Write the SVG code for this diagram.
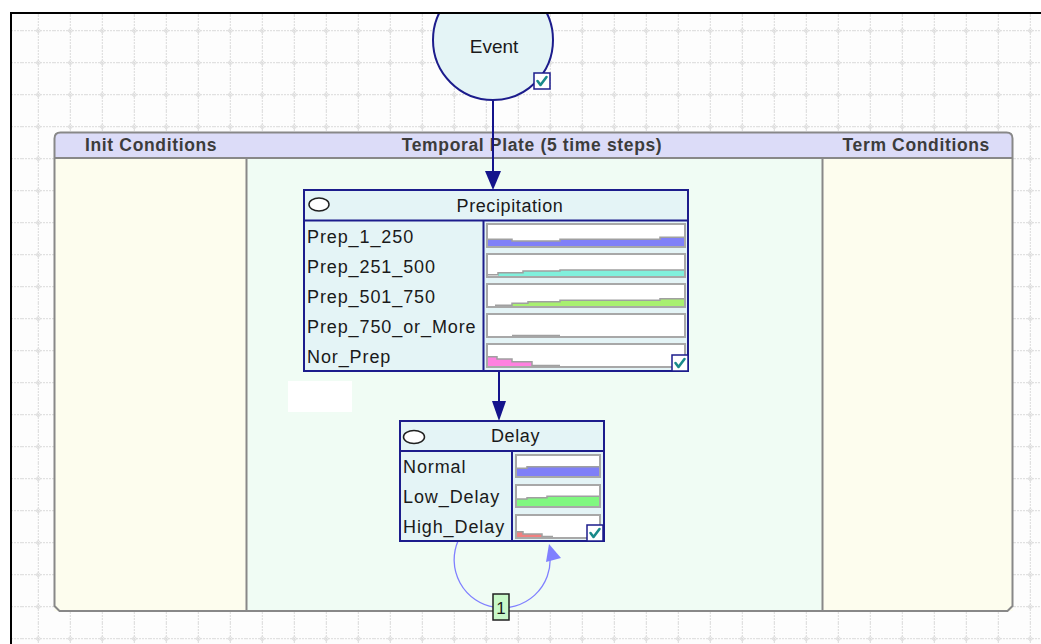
<svg xmlns="http://www.w3.org/2000/svg" width="1041" height="644" viewBox="0 0 1041 644">
<defs>
<style>
.hdr{font-family:"Liberation Sans",Arial,sans-serif;font-weight:bold;font-size:17.5px;fill:#3c3c3c;letter-spacing:0.65px}
.lbl{font-family:"Liberation Sans",Arial,sans-serif;font-size:18px;fill:#1a1a1a;letter-spacing:0.9px}
.title{font-family:"Liberation Sans",Arial,sans-serif;font-size:18px;fill:#1a1a1a;letter-spacing:0.6px}
.node{fill:#e4f4f6;stroke:#1c1c8c;stroke-width:2}
.bar{fill:#ffffff;stroke:#a8a8a8;stroke-width:2}
.trace{fill:none;stroke:#a0a0a0;stroke-width:1.5}
.cb{fill:#ffffff;stroke:#1c1c8c;stroke-width:1.5}
.ck{fill:none;stroke:#1a8a8a;stroke-width:2.6;stroke-linecap:round;stroke-linejoin:round}
.oval{fill:#ffffff;stroke:#202020;stroke-width:1.5}
.link{stroke:#14148c;stroke-width:2;fill:none}
</style>
<pattern id="grid" x="22" y="15" width="32" height="32" patternUnits="userSpaceOnUse">
<line x1="16.3" y1="0" x2="16.3" y2="32" stroke="#dadada" stroke-width="1" stroke-dasharray="2 1"/>
<line x1="0" y1="15.7" x2="32" y2="15.7" stroke="#dadada" stroke-width="1" stroke-dasharray="2 1"/>
<circle cx="16.3" cy="15.7" r="1.8" fill="none" stroke="#dadada" stroke-width="1"/>
</pattern>
</defs>

<rect x="0" y="0" width="1041" height="644" fill="#ffffff"/>
<rect x="12" y="14" width="1029" height="630" fill="#fdfdfd"/>
<rect x="12" y="14" width="1029" height="630" fill="url(#grid)"/>
<line x1="10" y1="13" x2="1041" y2="13" stroke="#000000" stroke-width="2"/>
<line x1="11" y1="12" x2="11" y2="644" stroke="#000000" stroke-width="2"/>

<g id="plate">
<rect x="54.5" y="158" width="192" height="453" fill="#fdfdee"/>
<rect x="246.5" y="158" width="576" height="453" fill="#f0fcf4"/>
<rect x="822.5" y="158" width="190" height="453" fill="#fdfdee"/>
<path d="M54.5 158 L54.5 138.5 Q54.5 132.5 60.5 132.5 L1006.5 132.5 Q1012.5 132.5 1012.5 138.5 L1012.5 158 Z" fill="#dcdcf8"/>
<path d="M54.5 138.5 Q54.5 132.5 60.5 132.5 L1006.5 132.5 Q1012.5 132.5 1012.5 138.5 L1012.5 606 L1007.5 611 L59.5 611 L54.5 606 Z" fill="none" stroke="#888888" stroke-width="2"/>
<line x1="54.5" y1="158" x2="1012.5" y2="158" stroke="#888888" stroke-width="2"/>
<line x1="246.5" y1="158" x2="246.5" y2="611" stroke="#888888" stroke-width="2"/>
<line x1="822.5" y1="158" x2="822.5" y2="611" stroke="#888888" stroke-width="2"/>
<text class="hdr" x="85" y="151">Init Conditions</text>
<text class="hdr" x="532" y="151" text-anchor="middle">Temporal Plate (5 time steps)</text>
<text class="hdr" x="990" y="151" text-anchor="end">Term Conditions</text>
<rect x="288" y="381" width="64" height="31" fill="#ffffff"/>
</g>

<g id="connectors">
<line class="link" x1="493" y1="100" x2="493" y2="174"/>
<polygon points="485,171 501,171 493,190" fill="#14148c"/>
<line class="link" x1="499" y1="371" x2="499" y2="404"/>
<polygon points="492,401 506,401 499,421" fill="#14148c"/>
<path d="M458 541 A48 48 0 1 0 550 556" fill="none" stroke="#8080ff" stroke-width="1.3"/>
<polygon points="549,544 546,562 561,558" fill="#8080ff"/>
<rect x="493" y="594" width="16" height="26" fill="#c8f8c8" stroke="#202020" stroke-width="1.5"/>
<text x="501" y="614" text-anchor="middle" font-family="'Liberation Sans',Arial,sans-serif" font-size="17" fill="#1a1a1a">1</text>
</g>

<g id="event">
<circle cx="493" cy="40" r="60" fill="#e4f4f6" stroke="#1c1c8c" stroke-width="2"/>
<rect x="0" y="0" width="1041" height="12" fill="#ffffff"/>
<line x1="10" y1="13" x2="1041" y2="13" stroke="#000000" stroke-width="2"/>
<text x="494" y="53" text-anchor="middle" font-family="'Liberation Sans',Arial,sans-serif" font-size="19" fill="#1a1a1a">Event</text>
<rect class="cb" x="534" y="73" width="16" height="16"/>
<path class="ck" d="M537.5 81 L540.5 85 L546.5 77"/>
</g>

<g id="precipitation">
<rect class="node" x="304" y="190" width="384" height="181"/>
<line x1="304" y1="220.5" x2="688" y2="220.5" stroke="#1c1c8c" stroke-width="2"/>
<line x1="483.5" y1="220.5" x2="483.5" y2="371" stroke="#1c1c8c" stroke-width="2"/>
<ellipse class="oval" cx="319" cy="204.5" rx="10" ry="6.5"/>
<text class="title" x="510" y="212" text-anchor="middle">Precipitation</text>
<text class="lbl" x="307" y="243">Prep_1_250</text>
<text class="lbl" x="307" y="273">Prep_251_500</text>
<text class="lbl" x="307" y="303">Prep_501_750</text>
<text class="lbl" x="307" y="333">Prep_750_or_More</text>
<text class="lbl" x="307" y="363">Nor_Prep</text>
<rect class="bar" x="487" y="224" width="198" height="23"/>
<polygon points="488,239.3 512,239.3 512,241 560,241 560,239.3 660,239.3 660,237.3 684,237.3 684,246 488,246" fill="#8080f8"/>
<polyline class="trace" points="488,239.3 512,239.3 512,241 560,241 560,239.3 660,239.3 660,237.3 684,237.3"/>
<rect class="bar" x="487" y="254" width="198" height="23"/>
<polygon points="498,272.7 523,272.7 523,271 560,271 560,270 684,270 684,276 498,276" fill="#80f0dc"/>
<polyline class="trace" points="488,274.8 498,274.8 498,272.7 523,272.7 523,271 560,271 560,270 684,270"/>
<rect class="bar" x="487" y="284" width="198" height="23"/>
<polygon points="512,303.3 528,303.3 528,301.7 560,301.7 560,300.3 660,300.3 660,298.7 684,298.7 684,306 512,306" fill="#a8f070"/>
<polyline class="trace" points="495,305.3 512,305.3 512,303.3 528,303.3 528,301.7 560,301.7 560,300.3 660,300.3 660,298.7 684,298.7"/>
<rect class="bar" x="487" y="314" width="198" height="23"/>
<polyline class="trace" points="512,335.5 560,335.5"/>
<rect class="bar" x="487" y="344" width="198" height="23"/>
<polygon points="488,356.7 497,356.7 497,359 512,359 512,361.7 532,361.7 532,366 488,366" fill="#ff80e0"/>
<polyline class="trace" points="488,356.7 497,356.7 497,359 512,359 512,361.7 532,361.7 532,365.5 560,365.5"/>
<rect class="cb" x="672" y="355" width="16" height="16"/>
<path class="ck" d="M675.5 363 L678.5 367 L684.5 359"/>
</g>

<g id="delay">
<rect class="node" x="400" y="421" width="204" height="120"/>
<line x1="400" y1="451" x2="604" y2="451" stroke="#1c1c8c" stroke-width="2"/>
<line x1="512" y1="451" x2="512" y2="541" stroke="#1c1c8c" stroke-width="2"/>
<ellipse class="oval" cx="414" cy="437" rx="10.5" ry="6.5"/>
<text class="title" x="515.5" y="442" text-anchor="middle">Delay</text>
<text class="lbl" x="403" y="473">Normal</text>
<text class="lbl" x="403" y="503">Low_Delay</text>
<text class="lbl" x="403" y="533">High_Delay</text>
<rect class="bar" x="516" y="455" width="84" height="22"/>
<polygon points="517,468.3 527,468.3 527,466.7 599,466.7 599,476 517,476" fill="#7f7ff8"/>
<polyline class="trace" points="517,468.3 527,468.3 527,466.7 599,466.7"/>
<rect class="bar" x="516" y="485" width="84" height="22"/>
<polygon points="517,499 527,499 527,497.7 547,497.7 547,496.3 599,496.3 599,506 517,506" fill="#80f880"/>
<polyline class="trace" points="517,499 527,499 527,497.7 547,497.7 547,496.3 599,496.3"/>
<rect class="bar" x="516" y="515" width="84" height="23"/>
<polygon points="517,531.7 523,531.7 523,534 542,534 542,537 517,537" fill="#f08080"/>
<polyline class="trace" points="517,531.7 523,531.7 523,534 542,534 542,536.5 553,536.5"/>
<rect class="cb" x="587" y="525" width="16" height="16"/>
<path class="ck" d="M590.5 533 L593.5 537 L599.5 529"/>
</g>
</svg>
